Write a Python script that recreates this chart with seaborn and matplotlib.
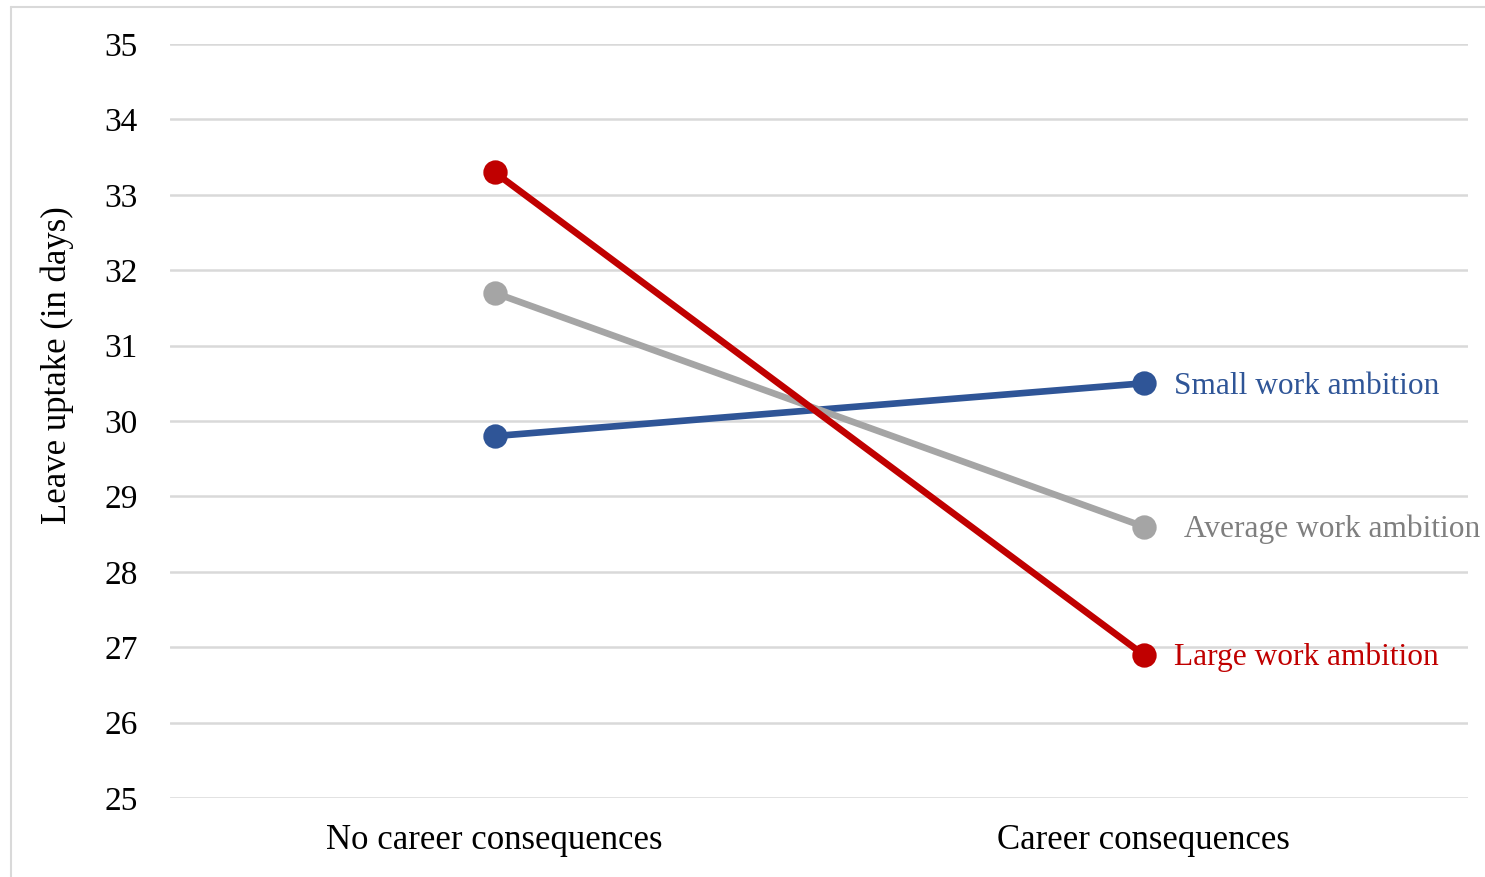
import matplotlib
matplotlib.use("Agg")
import matplotlib.pyplot as plt
import seaborn as sns
import pandas as pd
from matplotlib.lines import Line2D

# Conditions on the x axis
conditions = ["No career consequences", "Career consequences"]

# Mean leave uptake (days) per work-ambition group
small_ambition = [29.8, 30.5]
average_ambition = [31.7, 28.6]
large_ambition = [33.3, 26.9]

groups = ["Small work ambition", "Average work ambition", "Large work ambition"]
line_colors = ["#2F5597", "#A5A5A5", "#C00000"]
text_colors = ["#2F5597", "#7F7F7F", "#C00000"]

y_ticks = list(range(25, 36))

df = pd.DataFrame({
    "condition": conditions * 3,
    "days": small_ambition + average_ambition + large_ambition,
    "group": [g for g in groups for _ in conditions],
})

sns.set_theme(style="white")
plt.rcParams["font.family"] = ["Liberation Serif", "DejaVu Serif"]

fig = plt.figure(figsize=(14.85, 8.77), dpi=100)
ax = fig.add_axes([170 / 1485, 1 - 798 / 877, (1468 - 170) / 1485, (798 - 44) / 877])

sns.pointplot(
    data=df, x="condition", y="days", hue="group",
    order=conditions, hue_order=groups, palette=line_colors,
    errorbar=None, markers="o", markersize=14, linewidth=4.7,
    ax=ax, legend=False,
)
# Make the connecting lines and markers bold
for ln in ax.lines:
    ln.set_linewidth(4.8)
    ln.set_markersize(14)

ax.set_xlim(-0.5, 1.5)
ax.set_ylim(25, 35)
ax.set_yticks(y_ticks)
ax.yaxis.grid(True, color="#D9D9D9", linewidth=1.8)
ax.set_axisbelow(True)
for s in ax.spines.values():
    s.set_visible(False)

ax.tick_params(axis="y", length=0, pad=23, labelsize=24, labelcolor="#000000")
ax.tick_params(axis="x", length=0, pad=19, labelsize=25, labelcolor="#000000")
ax.set_xlabel("")
ax.set_ylabel("Leave uptake (in days)", fontsize=25, color="#000000")
ax.yaxis.set_label_coords(-0.074, 0.574)

# Direct labels next to the right-hand points
series_end = [small_ambition[-1], average_ambition[-1], large_ambition[-1]]
x_offsets = [22, 29, 22]
for g, val, col, dx in zip(groups, series_end, text_colors, x_offsets):
    ax.annotate(g, xy=(1, val), xytext=(dx, -2), textcoords="offset points",
                ha="left", va="center", fontsize=22.6, color=col,
                annotation_clip=False)

# Light frame along the left and top edges
frame = [Line2D([11 / 1485, 11 / 1485], [0, 1 - 7 / 877]),
         Line2D([11 / 1485, 1], [1 - 7 / 877, 1 - 7 / 877])]
for ln in frame:
    ln.set_color("#D9D9D9")
    ln.set_linewidth(1.5)
    ln.set_transform(fig.transFigure)
    fig.add_artist(ln)

fig.savefig("out.png", dpi=100, facecolor="white")
